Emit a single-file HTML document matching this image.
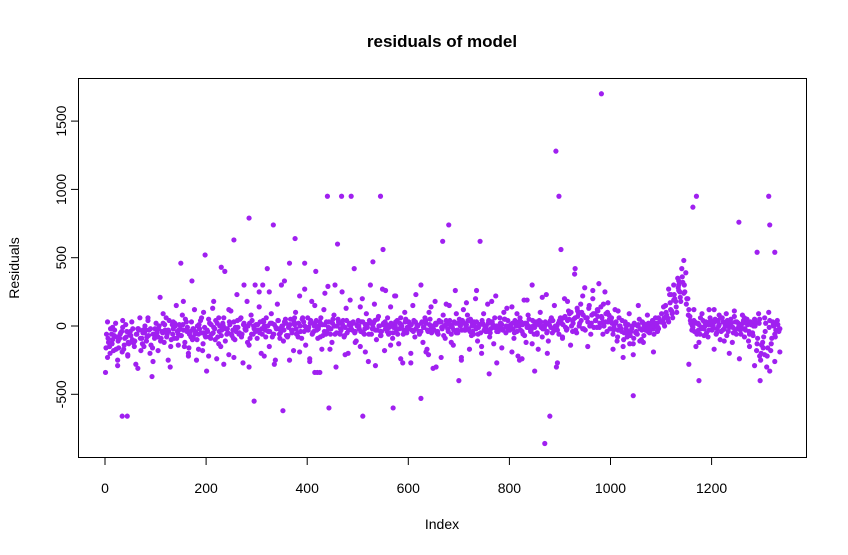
<!DOCTYPE html>
<html><head><meta charset="utf-8"><style>
html,body{margin:0;padding:0;background:#fff;}
svg{display:block;font-family:"Liberation Sans",Arial,sans-serif;}
</style></head><body>
<svg id="chart" width="848" height="555" viewBox="0 0 848 555">
<text x="442" y="47" text-anchor="middle" font-size="17" font-weight="bold">residuals of model</text>
<rect x="78.5" y="78.5" width="728" height="379" fill="none" stroke="#000" stroke-width="1"/>
<text x="442" y="529" text-anchor="middle" font-size="14">Index</text>
<text transform="translate(19,268) rotate(-90)" text-anchor="middle" font-size="14">Residuals</text>
<g id="xaxis"></g>
<g id="yaxis"></g>
<g id="points"></g>
</svg>
<script>
const xTicks=[0,200,400,600,800,1000,1200];
const yTicks=[-500,0,500,1000,1500];
const bandStep=4;
const bandValues=[
-340,30,-150,-60,-180,20,-250,-90,-40,-170,10,-220,-60,30,-120,-280,-20,60,-90,-150,-30,40,-200,-370,-60,
20,-80,210,-40,-120,60,-30,-300,10,-90,150,-60,-20,80,-150,30,-200,-40,-100,120,-250,-60,40,-180,-10,
-330,50,-90,130,-20,-240,60,-150,20,400,-60,-210,110,-30,-100,230,-50,60,-270,-20,180,-140,80,-60,300,
-90,250,-200,40,-30,420,-150,90,-60,-250,160,-20,300,-110,50,-80,460,-30,-180,100,-50,220,-90,30,-140,
60,-240,180,-40,400,-90,30,-170,120,-60,290,-20,-120,80,-300,50,-50,250,-80,130,-200,20,-30,420,-110,
40,-150,200,-60,90,-260,30,-20,160,-100,70,-40,270,-180,10,-60,140,-90,220,-30,-130,60,-270,100,-50,
30,-200,150,-80,10,-40,300,-120,60,-170,100,-20,-310,180,-50,40,-230,80,-90,20,150,-60,-140,260,-30,
50,-250,120,-30,80,-170,30,-60,200,-110,10,-200,90,-40,160,-80,30,-130,220,-20,60,-160,100,-50,40,
-30,140,-90,20,-220,60,-40,190,-120,80,-20,300,-60,30,-170,100,-80,-20,230,-110,40,-50,150,-300,20,
60,-80,200,-30,110,-140,40,380,-50,90,160,-20,280,60,130,-60,200,90,-10,310,140,30,250,-40,80,
40,-60,120,-110,60,-20,-150,30,-80,90,-40,-130,10,-60,50,-100,20,-30,80,-50,10,-20,60,-40,30,
90,20,150,60,230,110,300,180,350,250,420,480,390,200,70,-30,40,-150,20,-60,90,-20,30,-80,60,
-30,120,-60,40,-100,60,-20,90,-40,30,-120,70,-60,20,-30,80,-80,40,-110,30,-50,50,-180,90,-250,
-120,60,-300,100,-180,30,-60,20,-40];
const bandValues2=[
-60,-120,-20,-100,-30,-80,-160,-50,-10,-90,-40,-130,-70,-20,-110,-60,-30,-180,-50,0,-80,-30,-140,-60,-20,
-50,0,-90,20,-30,-60,40,-100,-20,0,-40,10,-70,-30,50,-10,-60,30,-90,-40,0,-20,60,-50,-80,
-40,20,-60,-10,40,-80,0,-30,60,-20,-50,10,-70,30,-40,-10,50,-60,20,-30,0,-90,40,-20,10,
-30,30,-60,0,60,-40,20,-80,10,-20,40,-50,0,30,-70,-10,50,-30,10,-60,20,-40,60,0,-20,
-10,40,-50,20,-30,0,60,-70,10,-40,30,-20,50,-60,0,20,-30,40,-10,-50,10,-20,30,-40,0,
-20,30,-50,10,-10,40,-60,20,-30,50,0,-40,20,-20,60,-50,10,-10,30,-60,20,0,-30,40,-20,
10,-30,40,-20,0,-50,30,-10,20,-40,50,0,-30,10,-60,30,-20,0,40,-40,10,-10,30,-50,20,
0,40,-30,10,-20,50,-40,0,30,-10,-50,20,0,-30,40,-20,10,60,-40,0,20,-30,50,-10,0,
10,-20,40,-40,0,30,-60,20,-10,50,-30,0,20,-50,40,-10,0,30,-40,10,60,-20,0,-30,40,
20,60,-10,40,90,0,50,-30,70,20,100,-20,60,30,0,80,-10,40,110,20,60,0,90,30,-20,
20,-10,30,-30,0,40,-50,-20,10,-70,0,20,-40,10,-20,30,0,-10,20,-30,40,0,10,-20,30,
40,0,80,30,120,60,200,100,260,180,320,250,200,120,20,-10,30,-60,10,-20,40,0,20,-30,10,
0,50,-20,10,-40,30,0,40,-10,20,-50,30,-20,0,-10,40,-30,10,-60,20,0,30,-90,50,-140,
-80,20,-160,40,-90,0,-30,10,-20];
const bandValues3=[
-160,-90,-200,-130,-70,-170,-110,-60,-190,-140,-80,-120,-40,-100,-150,-60,-20,-90,-130,-50,-110,-70,-20,-160,-90,
-70,-20,-110,-50,10,-80,-40,-150,-60,20,-90,-30,-70,10,-120,-40,-160,-80,-20,-60,-100,10,-50,-130,-70,
-30,-80,10,-50,-100,20,-40,-70,0,-110,-20,30,-60,-90,-10,40,-50,-80,10,-30,-120,20,-60,0,-40,
10,-50,-20,30,-80,0,-40,20,-60,-10,40,-90,0,-30,20,-70,10,-50,30,-20,-80,0,50,-40,-10,
-30,20,-60,0,40,-20,-80,10,-40,30,-10,-60,20,0,-50,30,-20,10,-70,40,-30,0,20,-50,10,
0,-40,30,-20,10,-60,20,-10,40,-30,0,-70,10,30,-40,-10,20,-50,0,40,-20,10,-60,30,-10,
-20,10,-40,30,0,-60,20,-10,40,-30,10,-50,0,20,-40,30,-10,-70,10,-20,40,0,-30,20,-50,
10,-30,20,-10,40,-40,0,30,-20,-60,10,40,-30,0,20,-50,30,-10,0,-40,20,-20,50,0,-30,
-20,20,-50,0,30,-30,10,-70,20,0,-40,40,-10,-60,10,30,-20,0,-50,20,-10,40,-30,0,-60,
40,10,70,-20,50,100,20,60,130,0,40,80,-30,60,150,20,90,40,120,-10,70,160,30,100,50,
60,-30,20,-80,0,-40,-100,10,-60,-130,-20,-90,-50,0,-110,-30,-70,10,-40,-20,0,-60,20,-10,40,
30,60,100,40,170,90,230,140,280,210,360,300,160,80,40,0,-40,20,-30,60,-10,30,-50,10,40,
-20,30,-50,0,60,-30,20,-70,10,50,-10,-40,30,0,-60,20,-20,50,-40,10,-70,0,-130,20,-200,
-160,-40,-220,-10,-130,10,-80,40,-20];
const bandValues4=[
-230,-10,-290,40,-210,-120,-310,-30,60,-260,
-180,90,-250,30,-140,180,-220,-20,-170,100,
-220,180,-130,-280,120,-230,-60,300,-300,-10,
140,-220,250,-280,-60,330,-250,60,-190,270,
-260,150,-340,240,-170,300,-60,-210,190,-120,
140,-190,300,-290,-70,260,-140,220,-240,50,
-270,230,-40,-190,140,-300,30,160,-120,90,
-230,170,-70,260,-150,-40,180,-270,10,130,
-190,90,-240,190,-130,-60,210,-200,40,-270,
-90,180,-40,110,220,-150,260,70,-60,170,
-170,110,-230,-40,-210,150,-120,-10,-190,60,
140,270,190,330,240,-280,120,-120,-70,120,
-170,80,-110,-200,110,-240,60,-150,-290,-220,
-210,-330,-260,-190];
const outIdx=[34,44,198,150,285,255,333,376,440,468,487,545,443,352,295,510,570,625,680,742,870,880,892,898,902,982,1045,1170,1163,1254,1313,1315,1175,1296,420,415,640,550,460,668,172,230,312,395,530,700,760,820,850,930,1120,1135,1290,1325];
const outVal=[-660,-660,520,460,790,630,740,640,950,950,950,950,-600,-620,-550,-660,-600,-530,740,620,-860,-660,1280,950,560,1700,-510,950,870,760,950,740,-400,-400,-340,-340,-210,560,600,620,330,430,300,460,470,-400,-350,-250,-330,420,230,300,540,540];
const sx=v=>105+v*0.5055;
const sy=v=>326-v*0.1366;
const NS="http://www.w3.org/2000/svg";
const xa=document.getElementById('xaxis'),ya=document.getElementById('yaxis'),pg=document.getElementById('points');
function mk(tag,attrs,parent){const e=document.createElementNS(NS,tag);for(const k in attrs)e.setAttribute(k,attrs[k]);parent.appendChild(e);return e;}
mk('line',{x1:sx(xTicks[0]),x2:sx(xTicks[xTicks.length-1]),y1:457.5,y2:457.5,stroke:'#000'},xa);
xTicks.forEach(t=>{
  const l=mk('line',{x1:sx(t),x2:sx(t),y1:457.5,y2:465,stroke:'#000'},xa);
  
  
  const tx=mk('text',{x:sx(t),y:493,'text-anchor':'middle','font-size':'14'},xa);
  tx.textContent=t;
  
  
});
mk('line',{x1:78.5,x2:78.5,y1:sy(yTicks[0]),y2:sy(yTicks[yTicks.length-1]),stroke:'#000'},ya);
yTicks.forEach(t=>{
  const l=mk('line',{x1:71,x2:78.5,y1:sy(t),y2:sy(t),stroke:'#000'},ya);
  
  
  const tx=mk('text',{transform:`translate(66,${sy(t)}) rotate(-90)`,'text-anchor':'middle','font-size':'14'},ya);
  tx.textContent=t;
  
  
});
function dot(i,v){
  const c=mk('circle',{cx:sx(i),cy:sy(v),r:2.6,fill:'#A020F0'},pg);
  
  
}
bandValues.forEach((v,k)=>dot(k*bandStep+1,v));
bandValues2.forEach((v,k)=>dot(k*bandStep+3,v));
bandValues3.forEach((v,k)=>dot(k*bandStep+2,v));
bandValues4.forEach((v,k)=>dot(k*10+5,v));
outIdx.forEach((ix,k)=>dot(ix,outVal[k]));
</script>
</body></html>
